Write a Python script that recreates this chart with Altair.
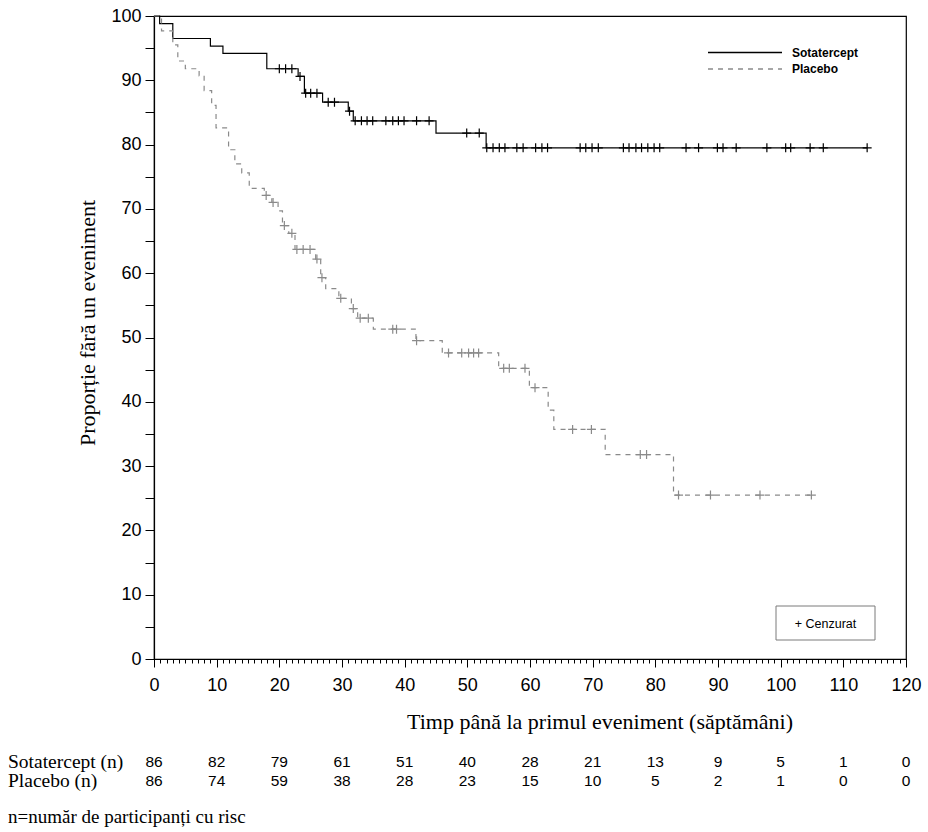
import altair as alt
import pandas as pd

# Kaplan-Meier steps: week of each drop and the proportion event-free after it
sot_weeks = [0, 0.9, 3.0, 9.0, 11.0, 18.0, 23.0, 24.0, 26.9, 31.0, 31.8, 45.0, 53.0, 113.8]
sot_surv = [100, 98.8, 96.5, 95.3, 94.2, 91.8, 90.6, 88.0, 86.6, 85.2, 83.7, 81.8, 79.5, 79.5]
sot_censored = [20.0, 21.0, 22.0, 23.3, 24.2, 25.0, 26.0, 27.8, 28.8, 31.2, 32.1, 33.1, 34.0,
                 34.9, 37.0, 38.1, 39.0, 39.9, 41.9, 43.9, 49.9, 51.9, 53.1, 54.1, 55.1, 56.0,
                 57.9, 58.9, 60.9, 61.9, 62.8, 68.0, 68.9, 69.9, 70.9, 74.9, 75.8, 76.9, 77.8,
                 78.8, 79.8, 80.7, 84.9, 86.9, 89.9, 90.8, 92.9, 97.8, 100.8, 101.6, 104.7,
                 106.8, 113.8]

pla_weeks = [0, 1.2, 3.0, 3.8, 5.0, 7.2, 8.0, 9.2, 9.9, 11.9, 12.9, 14.0, 15.2, 17.6, 18.8,
             19.8, 20.5, 21.5, 22.5, 25.8, 26.6, 27.4, 29.5, 31.5, 32.5, 35.0, 41.8, 46.0,
             55.0, 59.9, 62.9, 63.8, 72.0, 82.9, 104.9]
pla_surv = [100, 97.7, 95.5, 93.0, 91.8, 90.7, 88.4, 86.1, 82.6, 79.2, 77.0, 75.6, 73.2, 72.1,
            71.0, 69.7, 67.4, 66.2, 63.7, 62.2, 59.3, 57.6, 56.1, 54.5, 53.0, 51.3, 49.5, 47.6,
            45.2, 42.2, 38.7, 35.7, 31.8, 25.5, 25.5]
pla_censored = [17.9, 19.0, 20.8, 22.0, 22.8, 23.8, 24.9, 26.0, 26.8, 29.8, 31.8, 32.9, 34.2,
                38.1, 38.7, 41.9, 47.0, 49.1, 50.2, 51.0, 51.8, 55.8, 56.7, 59.2, 60.8, 66.8,
                69.8, 77.6, 78.6, 83.7, 88.8, 96.7, 104.9]

# Number at risk
risk_weeks = [0, 10, 20, 30, 40, 50, 60, 70, 80, 90, 100, 110, 120]
sot_at_risk = [86, 82, 79, 61, 51, 40, 28, 21, 13, 9, 5, 1, 0]
pla_at_risk = [86, 74, 59, 38, 28, 23, 15, 10, 5, 2, 1, 0, 0]

arms = ["Sotatercept", "Placebo"]
arm_colors = ["#000000", "#8a8a8a"]

SERIF = "Liberation Serif, Times New Roman, serif"
SANS = "Liberation Sans, Arial, sans-serif"

W, H = 752, 643


def level_at(t, weeks, surv):
    value = surv[0]
    for w, s in zip(weeks, surv):
        if w <= t:
            value = s
    return value


curves = pd.DataFrame(
    [{"week": w, "surv": s, "arm": "Sotatercept"} for w, s in zip(sot_weeks, sot_surv)]
    + [{"week": w, "surv": s, "arm": "Placebo"} for w, s in zip(pla_weeks, pla_surv)]
)
censors = pd.DataFrame(
    [{"week": t, "surv": level_at(t, sot_weeks, sot_surv), "arm": "Sotatercept"} for t in sot_censored]
    + [{"week": t, "surv": level_at(t, pla_weeks, pla_surv), "arm": "Placebo"} for t in pla_censored]
)

x_scale = alt.Scale(domain=[0, 120], nice=False, zero=False)
y_scale = alt.Scale(domain=[0, 100], nice=False)
color_scale = alt.Scale(domain=arms, range=arm_colors)
dash_scale = alt.Scale(domain=arms, range=[[1, 0], [5, 5]])

x_axis = alt.Axis(
    values=list(range(0, 121)),
    labelExpr="datum.value % 10 == 0 ? datum.label : ''",
    labelOverlap=False, labelFlush=False,
    tickSize={"condition": {"test": "datum.value % 10 == 0", "value": 8}, "value": 4},
    tickColor="black", tickWidth=1, domainColor="black", domainWidth=1.2,
    labelFont=SANS, labelFontSize=18, labelColor="black", labelPadding=9,
    grid=False, title=None,
)
y_axis = alt.Axis(
    values=list(range(0, 101, 5)),
    labelExpr="datum.value % 10 == 0 ? datum.label : ''",
    labelOverlap=False, labelFlush=False,
    tickSize=9, tickColor="black", tickWidth=1, domainColor="black", domainWidth=1.2,
    labelFont=SANS, labelFontSize=18, labelColor="black", labelPadding=4,
    grid=False, title=None,
)


def xq(field="week:Q"):
    return alt.X(field, scale=x_scale, axis=x_axis)


def yq(field="surv:Q"):
    return alt.Y(field, scale=y_scale, axis=y_axis)


lines = alt.Chart(curves).mark_line(interpolate="step-after", strokeWidth=1.2).encode(
    x=xq(),
    y=yq(),
    color=alt.Color("arm:N", scale=color_scale, legend=None),
    strokeDash=alt.StrokeDash("arm:N", scale=dash_scale, legend=None),
    detail="arm:N",
)

plus = alt.Chart(censors).mark_point(
    shape="M-1,0H1M0,-1V1", filled=False, size=81, strokeWidth=1.2, opacity=1
).encode(
    x=xq(),
    y=yq(),
    color=alt.Color("arm:N", scale=color_scale, legend=None),
)


def legend_entry(arm, y_px):
    one = pd.DataFrame({"arm": [arm]})
    rule = alt.Chart(one).mark_rule(strokeWidth=1.3).encode(
        x=alt.value(554), x2=alt.value(628), y=alt.value(y_px),
        color=alt.Color("arm:N", scale=color_scale, legend=None),
        strokeDash=alt.StrokeDash("arm:N", scale=dash_scale, legend=None),
    )
    label = alt.Chart(one).mark_text(
        align="left", baseline="middle", font=SANS, fontSize=12, fontWeight="bold", color="black"
    ).encode(x=alt.value(638), y=alt.value(y_px), text="arm:N")
    return rule + label


legend = legend_entry("Sotatercept", 36.5) + legend_entry("Placebo", 53)

# Censoring key box
censor_box = alt.Chart(pd.DataFrame({"k": [0]})).mark_rect(
    fill="white", stroke="#7a7a7a", strokeWidth=1
).encode(x=alt.value(622), x2=alt.value(721), y=alt.value(590), y2=alt.value(624))
censor_text = alt.Chart(pd.DataFrame({"label": ["+ Cenzurat"]})).mark_text(
    align="center", baseline="middle", font=SANS, fontSize=12.5, color="black"
).encode(x=alt.value(671.5), y=alt.value(608), text="label:N")

# Axis titles
y_title = alt.Chart(pd.DataFrame({"t": ["Proporție fără un eveniment"]})).mark_text(
    angle=270, align="center", baseline="middle", font=SERIF, fontSize=22, color="black"
).encode(x=alt.value(-66), y=alt.value(307), text="t:N")
x_title = alt.Chart(pd.DataFrame({"t": ["Timp până la primul eveniment (săptămâni)"]})).mark_text(
    align="center", baseline="middle", font=SERIF, fontSize=22, color="black"
).encode(x=alt.value(446), y=alt.value(706), text="t:N")


# Number-at-risk table
def risk_row(label, counts, y_px):
    df = pd.DataFrame({"week": risk_weeks, "n": counts})
    nums = alt.Chart(df).mark_text(
        align="center", baseline="middle", font=SANS, fontSize=15.5, color="black"
    ).encode(x=xq(), y=alt.value(y_px), text="n:Q")
    name = alt.Chart(pd.DataFrame({"label": [label]})).mark_text(
        align="left", baseline="middle", font=SERIF, fontSize=19.5, color="black"
    ).encode(x=alt.value(-146), y=alt.value(y_px), text="label:N")
    return nums + name


risk_table = risk_row("Sotatercept (n)", sot_at_risk, 746) + risk_row("Placebo (n)", pla_at_risk, 765)

footnote = alt.Chart(pd.DataFrame({"t": ["n=număr de participanți cu risc"]})).mark_text(
    align="left", baseline="middle", font=SERIF, fontSize=19, color="black"
).encode(x=alt.value(-146), y=alt.value(801), text="t:N")

chart = alt.layer(
    lines, plus, legend, censor_box, censor_text, y_title, x_title, risk_table, footnote,
).properties(
    width=W, height=H,
    autosize=alt.AutoSizeParams(type="none"),
    padding={"left": 154, "top": 16, "right": 22, "bottom": 173},
    background="white",
).configure_view(stroke="black", strokeWidth=1.2)

chart.save("out.html", embed_options={"renderer": "svg", "actions": False})
